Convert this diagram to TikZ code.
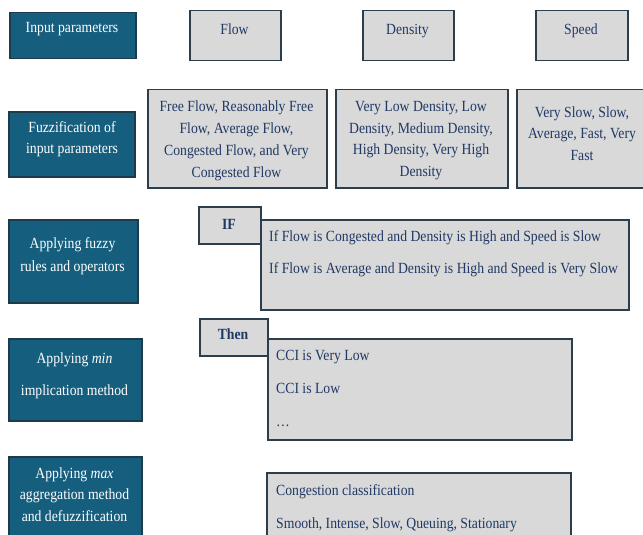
\documentclass[tikz,border=0pt]{standalone}
\usepackage{fontspec}
\setmainfont{Liberation Serif}[FakeStretch=0.885]
\definecolor{stepblue}{HTML}{165E7E}
\definecolor{stepblueline}{HTML}{1E3B4D}
\definecolor{itemgray}{HTML}{D9D9D9}
\definecolor{itemline}{HTML}{2C3E4C}
\definecolor{itemtext}{HTML}{1F3864}
\begin{document}
\begin{tikzpicture}[x=1pt,y=-1pt,
		stepbox/.style={draw=stepblueline, fill=stepblue, line width=1.5pt, anchor=north west, inner sep=0pt},
		itembox/.style={draw=itemline, fill=itemgray, line width=1.5pt, anchor=north west, inner sep=0pt},
		steptext/.style={text=white, inner sep=0pt, align=center},
		itemtext/.style={text=itemtext, inner sep=0pt},
		fs/.style={font=\fontsize{15.5}{#1}\selectfont},
		keyword/.style={font=\fontsize{15.5}{19}\selectfont\bfseries}]
	\useasboundingbox (0,0) rectangle (643,535);
	% step column
	\node[stepbox, minimum width=126, minimum height=46] (inpbox) at (9,12) {};
	\node[stepbox, minimum width=126, minimum height=65] (fuzzbox) at (8,111) {};
	\node[stepbox, minimum width=129, minimum height=83] (rulebox) at (8,219) {};
	\node[stepbox, minimum width=133, minimum height=82] (minbox) at (8,338) {};
	\node[stepbox, minimum width=133, minimum height=90] (maxbox) at (8,456) {};
	\node[steptext, fs=19, anchor=base] (inptext) at (72,33) {Input parameters};
	\node[steptext, fs=21, anchor=north] (fuzztext) at (72,121.4) {Fuzzification of\\input parameters};
	\node[steptext, fs=23, anchor=north] (ruletext) at (72.5,237.4) {Applying fuzzy\\rules and operators};
	\node[steptext, fs=32, anchor=north] (mintext) at (74.5,352.4) {Applying \textit{min}\\implication method};
	\node[steptext, fs=21.5, anchor=north] (maxtext) at (74.5,467.4) {Applying \textit{max}\\aggregation method\\and defuzzification};
	% input parameters
	\node[itembox, minimum width=91, minimum height=50] (flowbox) at (189,10) {};
	\node[itembox, minimum width=91, minimum height=50] (densbox) at (362,10) {};
	\node[itembox, minimum width=92, minimum height=50] (speedbox) at (535,10) {};
	\node[itemtext, fs=19, anchor=base] (flowtext) at (234.5,35) {Flow};
	\node[itemtext, fs=19, anchor=base] (denstext) at (407.5,35) {Density};
	\node[itemtext, fs=19, anchor=base] (speedtext) at (581,35) {Speed};
	% fuzzy sets
	\node[itembox, minimum width=179, minimum height=98] (flowlist) at (147,89) {};
	\node[itembox, minimum width=172, minimum height=98] (denslist) at (335,89) {};
	\node[itembox, minimum width=135, minimum height=98] (speedlist) at (516,89) {};
	\node[itemtext, fs=22, align=center, anchor=north] (flowsets) at (236.5,100.4)
		{Free Flow, Reasonably Free\\Flow, Average Flow,\\Congested Flow, and Very\\Congested Flow};
	\node[itemtext, fs=21.5, align=center, anchor=north] (denssets) at (421,101.4)
		{Very Low Density, Low\\Density, Medium Density,\\High Density, Very High\\Density};
	\node[itemtext, fs=21.5, align=center, anchor=north] (speedsets) at (582,106.4)
		{Very Slow, Slow,\\Average, Fast, Very\\Fast};
	% rules
	\node[itembox, minimum width=368, minimum height=90] (rulelist) at (260,219) {};
	\node[itembox, minimum width=62, minimum height=37] (ifbox) at (198,206) {};
	\node[itemtext, keyword, anchor=base] (iftext) at (229,229) {IF};
	\node[itemtext, fs=32, align=left, anchor=north west] (ruletexts) at (269,230.4)
		{If Flow is Congested and Density is High and Speed is Slow\\If Flow is Average and Density is High and Speed is Very Slow};
	% implication
	\node[itembox, minimum width=304, minimum height=101] (ccilist) at (267,338) {};
	\node[itembox, minimum width=68, minimum height=37] (thenbox) at (199,318) {};
	\node[itemtext, keyword, anchor=base] (thentext) at (233,339) {Then};
	\node[itemtext, fs=33, align=left, anchor=north west] (ccitexts) at (276,350.4)
		{CCI is Very Low\\CCI is Low\\\dots};
	% aggregation
	\node[itembox, minimum width=304, minimum height=80] (classlist) at (266,472) {};
	\node[itemtext, fs=33, align=left, anchor=north west] (classtexts) at (276,484.4)
		{Congestion classification\\Smooth, Intense, Slow, Queuing, Stationary};
\end{tikzpicture}
\end{document}
